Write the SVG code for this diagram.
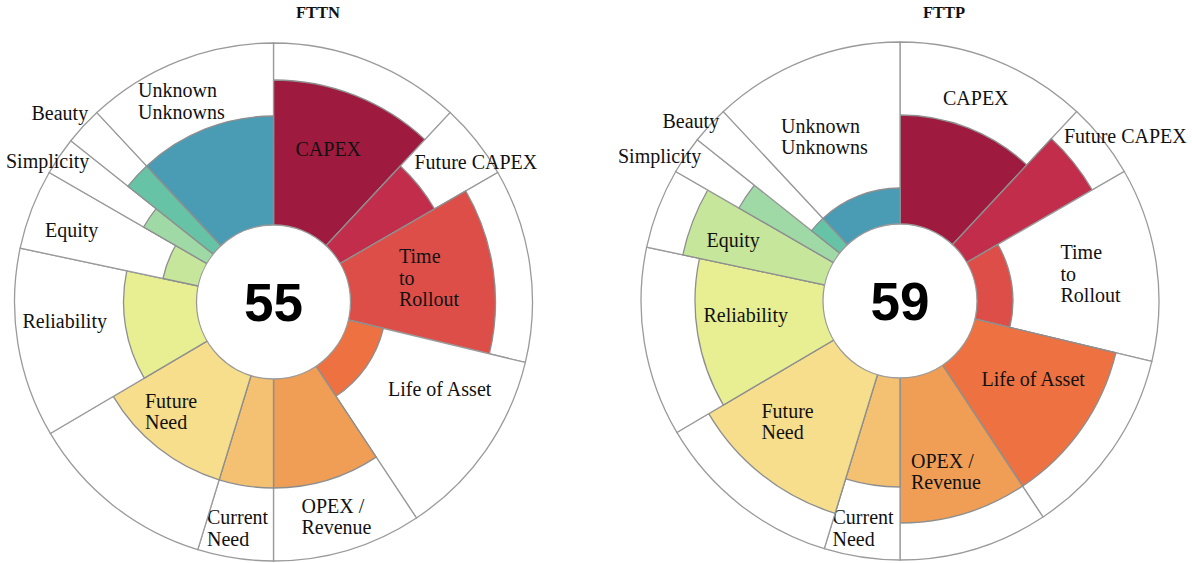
<svg xmlns="http://www.w3.org/2000/svg" xmlns:xlink="http://www.w3.org/1999/xlink" width="1192" height="563" viewBox="0 0 1192 563">
<style>
.bg{fill:#fff;stroke:#9a9a9a;stroke-width:1.3}
.seg{stroke:#8e8e8e;stroke-width:1.3}
.hub{fill:#fff;stroke:#9a9a9a;stroke-width:1.3}
.lbl{font-family:"Liberation Serif","DejaVu Serif",serif;font-size:20px;fill:#111}
.num{font-family:"Liberation Sans",Arial,sans-serif;font-weight:bold;font-size:53px;text-anchor:middle;fill:#000}
.title{font-family:"Liberation Serif","DejaVu Serif",serif;font-weight:bold;font-size:16.5px;text-anchor:middle;fill:#111}
.c1{fill:#9f1a3f}.c2{fill:#c22d4b}.c3{fill:#de4e49}.c4{fill:#ed7141}.c5{fill:#f09e55}.c6{fill:#f4c172}
.c7{fill:#f6de8c}.c8{fill:#e8ef93}.c9{fill:#c6e79b}.c10{fill:#9fd9a6}.c11{fill:#67c3a6}.c12{fill:#4a9cb5}
</style>
<defs>
<path id="w1" class="bg" d="M0,0 L0,-259 A259,259 0 0,1 176.64,-189.42 Z"/>
<path id="w2" class="bg" d="M0,0 L176.64,-189.42 A259,259 0 0,1 224.30,-129.5 Z"/>
<path id="w3" class="bg" d="M0,0 L224.30,-129.5 A259,259 0 0,1 251.84,60.46 Z"/>
<path id="w4" class="bg" d="M0,0 L251.84,60.46 A259,259 0 0,1 142.95,215.98 Z"/>
<path id="w5" class="bg" d="M0,0 L142.95,215.98 A259,259 0 0,1 0,259 Z"/>
<path id="w6" class="bg" d="M0,0 L0,259 A259,259 0 0,1 -75.72,247.68 Z"/>
<path id="w7" class="bg" d="M0,0 L-75.72,247.68 A259,259 0 0,1 -223.16,131.45 Z"/>
<path id="w8" class="bg" d="M0,0 L-223.16,131.45 A259,259 0 0,1 -253.34,-53.85 Z"/>
<path id="w9" class="bg" d="M0,0 L-253.34,-53.85 A259,259 0 0,1 -224.30,-129.5 Z"/>
<path id="w10" class="bg" d="M0,0 L-224.30,-129.5 A259,259 0 0,1 -202.70,-161.23 Z"/>
<path id="w11" class="bg" d="M0,0 L-202.70,-161.23 A259,259 0 0,1 -176.64,-189.42 Z"/>
<path id="w12" class="bg" d="M0,0 L-176.64,-189.42 A259,259 0 0,1 0,-259 Z"/>
</defs>
<rect width="1192" height="563" fill="#fff"/>

<text class="title" x="318" y="18">FTTN</text>
<text class="title" x="944" y="18">FTTP</text>

<g id="chart-fttn" transform="translate(273.5,302)">
  <g id="fttn-capex"><use href="#w1"/><path class="seg c1" d="M0,0 L0,-222 A222,222 0 0,1 151.40,-162.36 Z"/><text class="lbl" x="22" y="-146">CAPEX</text></g>
  <g id="fttn-future-capex"><use href="#w2"/><path class="seg c2" d="M0,0 L126.85,-136.03 A186,186 0 0,1 161.08,-93 Z"/><text class="lbl" x="141" y="-133">Future CAPEX</text></g>
  <g id="fttn-time"><use href="#w3"/><path class="seg c3" d="M0,0 L192.26,-111 A222,222 0 0,1 215.87,51.83 Z"/><text class="lbl" x="125.5" y="-39">Time</text><text class="lbl" x="125.5" y="-17.5">to</text><text class="lbl" x="125.5" y="4">Rollout</text></g>
  <g id="fttn-life"><use href="#w4"/><path class="seg c4" d="M0,0 L109.88,26.38 A113,113 0 0,1 62.37,94.23 Z"/><text class="lbl" x="114.5" y="94">Life of Asset</text></g>
  <g id="fttn-opex"><use href="#w5"/><path class="seg c5" d="M0,0 L102.66,155.10 A186,186 0 0,1 0,186 Z"/><text class="lbl" x="28" y="211">OPEX /</text><text class="lbl" x="28" y="232">Revenue</text></g>
  <g id="fttn-current"><use href="#w6"/><path class="seg c6" d="M0,0 L0,186 A186,186 0 0,1 -54.38,177.87 Z"/><text class="lbl" x="-66.5" y="222">Current</text><text class="lbl" x="-66.5" y="244">Need</text></g>
  <g id="fttn-future-need"><use href="#w7"/><path class="seg c7" d="M0,0 L-54.38,177.87 A186,186 0 0,1 -160.26,94.40 Z"/><text class="lbl" x="-128.5" y="106">Future</text><text class="lbl" x="-128.5" y="127">Need</text></g>
  <g id="fttn-reliability"><use href="#w8"/><path class="seg c8" d="M0,0 L-129.24,76.13 A150,150 0 0,1 -146.72,-31.19 Z"/><text class="lbl" x="-251" y="26">Reliability</text></g>
  <g id="fttn-equity"><use href="#w9"/><path class="seg c9" d="M0,0 L-110.53,-23.49 A113,113 0 0,1 -97.86,-56.5 Z"/><text class="lbl" x="-228.5" y="-65">Equity</text></g>
  <g id="fttn-simplicity"><use href="#w10"/><path class="seg c10" d="M0,0 L-129.90,-75 A150,150 0 0,1 -117.39,-93.38 Z"/><text class="lbl" x="-267.5" y="-134">Simplicity</text></g>
  <g id="fttn-beauty"><use href="#w11"/><path class="seg c11" d="M0,0 L-145.57,-115.79 A186,186 0 0,1 -126.85,-136.03 Z"/><text class="lbl" x="-242" y="-182">Beauty</text></g>
  <g id="fttn-unknown"><use href="#w12"/><path class="seg c12" d="M0,0 L-126.85,-136.03 A186,186 0 0,1 0,-186 Z"/><text class="lbl" x="-135.5" y="-205">Unknown</text><text class="lbl" x="-135.5" y="-183">Unknowns</text></g>
  <g id="fttn-score"><circle class="hub" r="77"/><text class="num" x="0" y="19">55</text></g>
</g>

<g id="chart-fttp" transform="translate(900,301)">
  <g id="fttp-capex"><use href="#w1"/><path class="seg c1" d="M0,0 L0,-186 A186,186 0 0,1 126.85,-136.03 Z"/><text class="lbl" x="43" y="-196">CAPEX</text></g>
  <g id="fttp-future-capex"><use href="#w2"/><path class="seg c2" d="M0,0 L151.40,-162.36 A222,222 0 0,1 192.26,-111 Z"/><text class="lbl" x="164" y="-158">Future CAPEX</text></g>
  <g id="fttp-time"><use href="#w3"/><path class="seg c3" d="M0,0 L97.86,-56.5 A113,113 0 0,1 109.88,26.38 Z"/><text class="lbl" x="160.5" y="-42">Time</text><text class="lbl" x="160.5" y="-20.5">to</text><text class="lbl" x="160.5" y="1">Rollout</text></g>
  <g id="fttp-life"><use href="#w4"/><path class="seg c4" d="M0,0 L215.87,51.83 A222,222 0 0,1 122.53,185.12 Z"/><text class="lbl" x="81.5" y="85">Life of Asset</text></g>
  <g id="fttp-opex"><use href="#w5"/><path class="seg c5" d="M0,0 L122.53,185.12 A222,222 0 0,1 0,222 Z"/><text class="lbl" x="11" y="167">OPEX /</text><text class="lbl" x="11" y="188">Revenue</text></g>
  <g id="fttp-current"><use href="#w6"/><path class="seg c6" d="M0,0 L0,186 A186,186 0 0,1 -54.38,177.87 Z"/><text class="lbl" x="-67.5" y="223">Current</text><text class="lbl" x="-67.5" y="245">Need</text></g>
  <g id="fttp-future-need"><use href="#w7"/><path class="seg c7" d="M0,0 L-64.91,212.30 A222,222 0 0,1 -191.28,112.67 Z"/><text class="lbl" x="-138.5" y="117">Future</text><text class="lbl" x="-138.5" y="138">Need</text></g>
  <g id="fttp-reliability"><use href="#w8"/><path class="seg c8" d="M0,0 L-176.63,104.05 A205,205 0 0,1 -200.52,-42.62 Z"/><text class="lbl" x="-196.5" y="21">Reliability</text></g>
  <g id="fttp-equity"><use href="#w9"/><path class="seg c9" d="M0,0 L-217.15,-46.16 A222,222 0 0,1 -192.26,-111 Z"/><text class="lbl" x="-193.5" y="-54">Equity</text></g>
  <g id="fttp-simplicity"><use href="#w10"/><path class="seg c10" d="M0,0 L-161.08,-93 A186,186 0 0,1 -145.57,-115.79 Z"/><text class="lbl" x="-282" y="-138">Simplicity</text></g>
  <g id="fttp-beauty"><use href="#w11"/><path class="seg c11" d="M0,0 L-88.43,-70.34 A113,113 0 0,1 -77.07,-82.64 Z"/><text class="lbl" x="-237.5" y="-173">Beauty</text></g>
  <g id="fttp-unknown"><use href="#w12"/><path class="seg c12" d="M0,0 L-77.07,-82.64 A113,113 0 0,1 0,-113 Z"/><text class="lbl" x="-119" y="-168">Unknown</text><text class="lbl" x="-119" y="-147">Unknowns</text></g>
  <g id="fttp-score"><circle class="hub" r="77"/><text class="num" x="0" y="19">59</text></g>
</g>
</svg>
